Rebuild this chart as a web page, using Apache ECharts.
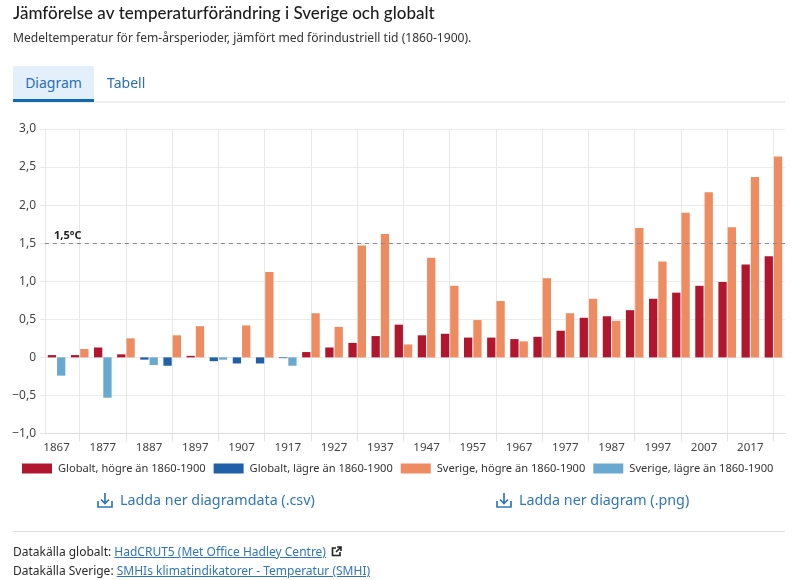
<!DOCTYPE html>
<html lang="sv">
<head>
<meta charset="utf-8">
<title>Jämförelse av temperaturförändring i Sverige och globalt</title>
<script src="https://cdn.jsdelivr.net/npm/echarts@6/dist/echarts.min.js"></script>
<style>
html,body{margin:0;padding:0;background:#fff;width:800px;height:580px;overflow:hidden;font-family:"Noto Sans",sans-serif}
#chart{position:absolute;left:0;top:0;width:800px;height:580px}
.abs{position:absolute;white-space:nowrap}
.tab{height:36px;line-height:34px;font-size:14px;color:#2a6fb3;box-sizing:border-box;text-align:center}
a{color:#2f76bd}
.dl{font-size:14.3px;color:#2f76bd;line-height:20px}
.src{font-size:12px;color:#2b2b2b;line-height:18px}
</style>
</head>
<body>
<div id="chart"></div>
<div class="abs" style="left:13px;top:101px;width:772px;height:2px;background:#eeeeee"></div>
<div class="abs tab" style="left:13px;top:66px;width:81px;background:#e3f0fb;border-bottom:3px solid #1268b3;border-radius:2px 2px 0 0">Diagram</div>
<div class="abs tab" style="left:107px;top:66px;width:38px">Tabell</div>
<svg class="abs" style="left:97px;top:492px" width="16" height="17" viewBox="0 0 16 17" fill="none" stroke="#2f76bd" stroke-width="1.7"><path d="M8 1v10M4 7.500l4 4 4-4M1 9v6h14V9"/></svg>
<div class="abs dl" style="left:120px;top:490px">Ladda ner diagramdata (.csv)</div>
<svg class="abs" style="left:496px;top:492px" width="16" height="17" viewBox="0 0 16 17" fill="none" stroke="#2f76bd" stroke-width="1.7"><path d="M8 1v10M4 7.500l4 4 4-4M1 9v6h14V9"/></svg>
<div class="abs dl" style="left:519px;top:490px">Ladda ner diagram (.png)</div>
<div class="abs" style="left:13px;top:531px;width:772px;height:1px;background:#dddddd"></div>
<div class="abs src" style="left:13px;top:543px">Datakälla globalt: <a href="#">HadCRUT5 (Met Office Hadley Centre)</a></div>
<svg class="abs" style="left:331px;top:546px" width="11" height="11" viewBox="0 0 11 11" fill="none" stroke="#222" stroke-width="1.6"><path d="M5 2H1.500v7.500H9V6M6 1h4v4M10 1L5 6"/></svg>
<div class="abs src" style="left:13px;top:562px">Datakälla Sverige: <a href="#">SMHIs klimatindikatorer - Temperatur (SMHI)</a></div>
<script>
const years = [1867,1872,1877,1882,1887,1892,1897,1902,1907,1912,1917,1922,1927,1932,1937,1942,1947,1952,1957,1962,1967,1972,1977,1982,1987,1992,1997,2002,2007,2012,2017,2022];
const globalValues = [0.03,0.03,0.13,0.04,-0.03,-0.11,0.02,-0.05,-0.08,-0.08,-0.01,0.07,0.13,0.19,0.28,0.43,0.29,0.31,0.26,0.26,0.24,0.27,0.35,0.52,0.54,0.62,0.77,0.85,0.94,0.99,1.22,1.33];
const swedenValues = [-0.24,0.11,-0.53,0.25,-0.10,0.29,0.41,-0.03,0.42,1.12,-0.11,0.58,0.40,1.47,1.62,0.17,1.31,0.94,0.49,0.74,0.21,1.04,0.58,0.77,0.48,1.70,1.26,1.90,2.17,1.71,2.37,2.64];
const targetLine = 1.5;
const seriesNames = ['Globalt, högre än 1860-1900','Globalt, lägre än 1860-1900','Sverige, högre än 1860-1900','Sverige, lägre än 1860-1900'];
const colors = ['#b2162f','#215fa8','#ee8b60','#6aa9cf'];
const FONT = '"Noto Sans", sans-serif';
const pos = a => a.map(v => v >= 0 ? v : null);
const neg = a => a.map(v => v < 0 ? v : null);
const fmt = v => v === 0 ? '0' : v.toFixed(1).replace('.', ',').replace('-', '\u2212');
const odd = i => i % 2 === 1;
const bar = (i, stack, data, extra) => Object.assign({
  name: seriesNames[i], type: 'bar', stack, data,
  barWidth: 8.3, barGap: '12%',
  itemStyle: {color: colors[i]}, emphasis: {disabled: true}
}, extra || {});

const chart = echarts.init(document.getElementById('chart'), null, {renderer: 'canvas'});
chart.setOption({
  animation: false,
  textStyle: {fontFamily: FONT},
  title: {
    text: 'Jämförelse av temperaturförändring i Sverige och globalt',
    subtext: 'Medeltemperatur för fem-årsperioder, jämfört med förindustriell tid (1860-1900).',
    left: 13, top: 5, padding: 0, itemGap: 11,
    textStyle: {fontFamily: 'Lato, sans-serif', fontSize: 17, fontWeight: 500, color: '#1c1c1c'},
    subtextStyle: {fontFamily: FONT, fontSize: 12.1, color: '#333'}
  },
  grid: {left: 45, right: 15, top: 129, bottom: 146.5, containLabel: false},
  legend: {
    left: 22, top: 463, padding: 0, itemWidth: 30, itemHeight: 10, itemGap: 8,
    icon: 'rect', selectedMode: false, data: seriesNames, width: 770,
    textStyle: {fontFamily: FONT, fontSize: 11.1, color: '#333', padding: [0,0,0,1]}
  },
  xAxis: {
    type: 'category', data: years, boundaryGap: true,
    axisLine: {onZero: false, lineStyle: {color: '#dcdcdc'}},
    axisTick: {show: true, alignWithLabel: true, interval: i => odd(i), length: 8, lineStyle: {color: '#e2e2e2'}},
    splitLine: {show: true, alignWithLabel: true, interval: i => odd(i), lineStyle: {color: '#e8e8ea', width: 1}},
    axisLabel: {interval: 1, fontSize: 11.6, color: '#444', margin: 8, fontFamily: FONT}
  },
  yAxis: {
    type: 'value', min: -1, max: 3, interval: 0.5,
    axisLine: {show: true, lineStyle: {color: '#e8e8ea'}},
    axisTick: {show: true, length: 5, lineStyle: {color: '#e8e8ea'}},
    splitLine: {show: true, lineStyle: {color: '#ebebed'}},
    axisLabel: {formatter: fmt, fontSize: 12, color: '#444', margin: 9, fontFamily: FONT}
  },
  series: [
    bar(0, 'globalt', pos(globalValues)),
    bar(1, 'globalt', neg(globalValues)),
    bar(2, 'sverige', pos(swedenValues), {
      markLine: {
        silent: true, symbol: 'none', z: 10,
        lineStyle: {color: '#8a8a8a', type: [4, 4], width: 1},
        label: {
          show: true, position: 'insideStartTop', formatter: '1,5°C', distance: [9, 2],
          fontSize: 11, fontWeight: 'bold', color: '#222', fontFamily: FONT
        },
        data: [{yAxis: targetLine}]
      }
    }),
    bar(3, 'sverige', neg(swedenValues))
  ]
});
</script>
</body>
</html>
